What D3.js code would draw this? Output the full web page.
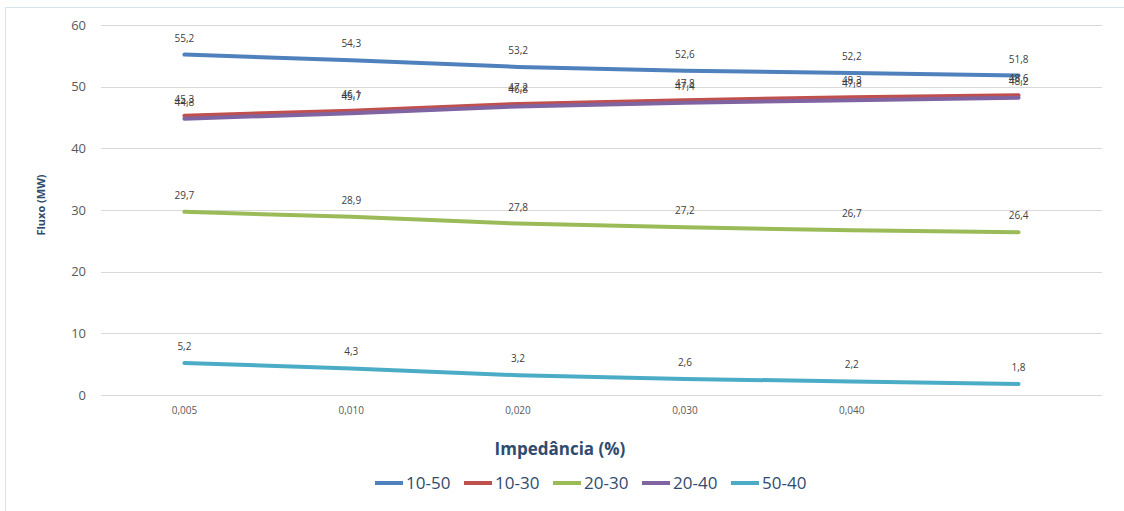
<!DOCTYPE html>
<html>
<head>
<meta charset="utf-8">
<script src="https://cdn.jsdelivr.net/npm/d3@7"></script>
<style>
  html, body { margin: 0; padding: 0; background: #fff; }
  svg { display: block; font-family: "Open Sans", "Liberation Sans", sans-serif; }
</style>
</head>
<body>
<svg id="chart" width="1124" height="511"></svg>
<script>
// Power flow (MW) per branch versus line impedance
const categories = ["0,005", "0,010", "0,020", "0,030", "0,040", ""];
const seriesNames = ["10-50", "10-30", "20-30", "20-40", "50-40"];
const s1050 = [55.2, 54.3, 53.2, 52.6, 52.2, 51.8];
const s1030 = [45.3, 46.1, 47.2, 47.8, 48.3, 48.6];
const s2030 = [29.7, 28.9, 27.8, 27.2, 26.7, 26.4];
const s2040 = [44.8, 45.7, 46.8, 47.4, 47.8, 48.2];
const s5040 = [5.2, 4.3, 3.2, 2.6, 2.2, 1.8];
const yTicks = [0, 10, 20, 30, 40, 50, 60];
const colors = ["#4F81BD", "#C0504D", "#9BBB59", "#8064A2", "#4BACC6"];

const series = [s1050, s1030, s2030, s2040, s5040].map((v, i) => ({
  name: seriesNames[i], values: v, color: colors[i]
}));

const svg = d3.select("#chart");
const plot = { left: 101, right: 1102, top: 25, bottom: 395 };

// outer frame (runs past the right and bottom edges)
svg.append("rect")
  .attr("x", 5.5).attr("y", 7.5)
  .attr("width", 1130).attr("height", 520)
  .attr("fill", "#fff").attr("stroke", "#D6E3F1").attr("stroke-width", 1);

const x = d3.scaleBand().domain(d3.range(categories.length))
  .range([plot.left, plot.right]);
const y = d3.scaleLinear().domain([0, 60]).range([plot.bottom, plot.top]);

// gridlines
svg.append("g").selectAll("line").data(yTicks).join("line")
  .attr("x1", plot.left).attr("x2", plot.right)
  .attr("y1", d => Math.round(y(d)) + 0.5).attr("y2", d => Math.round(y(d)) + 0.5)
  .attr("stroke", "#D9D9D9").attr("stroke-width", 1);

// y axis labels
const yAxis = d3.axisLeft(y).tickValues(yTicks).tickSize(0).tickPadding(15)
  .tickFormat(d3.format("d"));
const gy = svg.append("g").attr("transform", `translate(${plot.left},0)`).call(yAxis);
gy.select(".domain").remove();
gy.selectAll("text").attr("font-size", 13).attr("fill", "#595959")
  .attr("font-family", "'Open Sans', sans-serif");

// x axis labels
const xAxis = d3.axisBottom(x).tickSize(0).tickPadding(12)
  .tickFormat(i => categories[i]);
const gx = svg.append("g").attr("transform", `translate(0,${plot.bottom})`).call(xAxis);
gx.select(".domain").remove();
gx.selectAll("text").attr("font-size", 10).attr("fill", "#595959")
  .attr("font-family", "'Open Sans', sans-serif");

// axis titles
svg.append("text")
  .attr("transform", "translate(45,205) rotate(-90)")
  .attr("text-anchor", "middle").attr("font-size", 11).attr("font-weight", "bold")
  .attr("fill", "#2F4B6E").text("Fluxo (MW)");

svg.append("text")
  .attr("x", 560).attr("y", 455)
  .attr("text-anchor", "middle").attr("font-size", 17).attr("font-weight", "bold")
  .attr("fill", "#2F4B6E").text("Impedância (%)");

// lines
const cx = i => x(i) + x.bandwidth() / 2;
const line = d3.line().x((d, i) => cx(i)).y(d => y(d));

svg.append("g").selectAll("path").data(series).join("path")
  .attr("d", s => line(s.values))
  .attr("fill", "none").attr("stroke", s => s.color)
  .attr("stroke-width", 4).attr("stroke-linecap", "round").attr("stroke-linejoin", "round");

// data labels
const lbl = svg.append("g");
series.forEach(s => {
  lbl.selectAll(null).data(s.values).join("text")
    .attr("x", (d, i) => cx(i)).attr("y", d => y(d) - 13)
    .attr("text-anchor", "middle").attr("font-size", 10).attr("fill", "#404040")
    .text(d => d3.format(".1f")(d).replace(".", ","));
});

// legend
const leg = svg.append("g").attr("transform", "translate(375,489)");
const item = leg.selectAll("g").data(series).join("g")
  .attr("transform", (d, i) => `translate(${i * 89},0)`);
item.append("line").attr("x1", 0).attr("x2", 28).attr("y1", -6).attr("y2", -6)
  .attr("stroke", d => d.color).attr("stroke-width", 4);
item.append("text").attr("x", 31).attr("y", 0).attr("font-size", 17)
  .attr("fill", "#2F4B6E").text(d => d.name);
</script>
</body>
</html>
